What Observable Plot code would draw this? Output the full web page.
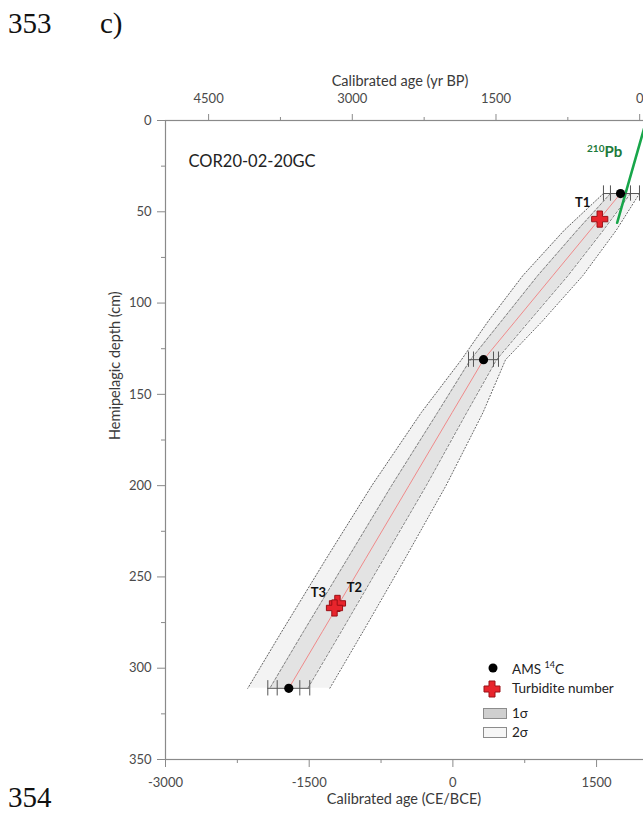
<!DOCTYPE html>
<html>
<head>
<meta charset="utf-8">
<script src="https://cdn.jsdelivr.net/npm/d3@7"></script>
<script src="https://cdn.jsdelivr.net/npm/@observablehq/plot@0.6"></script>
<style>
  html, body { margin: 0; padding: 0; overflow: hidden; background: #fff; width: 643px; height: 816px; }
  #wrap { position: relative; width: 643px; height: 816px; overflow: hidden; }
  #chart svg { max-width: none !important; height: 816px !important; width: 650px !important; display: block; }
  .num { position: absolute; font-family: "Liberation Serif", "DejaVu Serif", serif; font-size: 29px; color: #111; line-height: 1; }
  #legend { position: absolute; left: 480px; top: 658px; font-family: Lato, "Open Sans", sans-serif; font-size: 13.5px; color: #222; }
  .lg { position: absolute; white-space: nowrap; }
  .lg svg { position: absolute; }
  .lg span { position: absolute; left: 32px; top: -9px; }
</style>
</head>
<body>
<div id="wrap">
  <div id="chart"></div>
  <div class="num" style="left:8px; top:9px;">353</div>
  <div class="num" style="left:100px; top:9px;">c)</div>
  <div class="num" style="left:8px; top:783px;">354</div>
  <div id="legend">
    <div class="lg" style="left:0; top:10px;"><svg width="24" height="14" style="left:4px;top:-7px"><circle cx="9" cy="7" r="4.5" fill="#000"/></svg><span>AMS <sup style="font-size:9px">14</sup>C</span></div>
    <div class="lg" style="left:0; top:31px;"><svg width="24" height="20" style="left:2px;top:-10px"><path d="M7,2h6v5h5v6h-5v5h-6v-5h-5v-6h5z" fill="#e8242c" stroke="#9b1016" stroke-width="1"/></svg><span>Turbidite number</span></div>
    <div class="lg" style="left:0; top:56px;"><svg width="26" height="12" style="left:3px;top:-6px"><rect x="0.5" y="0.5" width="23" height="10" fill="#cfcfcf" stroke="#8c8c8c"/></svg><span>1σ</span></div>
    <div class="lg" style="left:0; top:75px;"><svg width="26" height="12" style="left:3px;top:-6px"><rect x="0.5" y="0.5" width="23" height="10" fill="#f6f6f6" stroke="#8c8c8c"/></svg><span>2σ</span></div>
  </div>
</div>
<script>
// ---- Data ----
const coreName = "COR20-02-20GC";

// AMS 14C dates (CE/BCE, depth in cm)
const amsDepth = [40, 131, 311];
const amsAge = [1750, 320, -1713];
const ams1Lo = [1645, 215, -1834];
const ams1Hi = [1854, 424, -1598];
const ams2Lo = [1572, 163, -1932];
const ams2Hi = [1948, 476, -1494];

// Age-depth model
const modelDepth = [40, 60, 85, 110, 131, 160, 200, 240, 280, 311];
const modelMedian = [1750, 1436, 1043, 650, 320, -8, -459, -911, -1363, -1713];
const sig1Lo = [1645, 1300, 885, 505, 184, -160, -640, -1100, -1560, -1911];
const sig1Hi = [1854, 1572, 1201, 795, 456, 144, -278, -722, -1166, -1515];
const sig2Lo = [1572, 1165, 730, 368, 90, -330, -846, -1322, -1787, -2141];
const sig2Hi = [1948, 1707, 1356, 932, 550, 314, -72, -500, -939, -1285];

// Turbidites
const turbName = ["T1", "T2", "T3"];
const turbDepth = [54, 264.5, 267];
const turbAge = [1533, -1205, -1236];

// 210Pb model
const pbAge = [2020, 1715];
const pbDepth = [0, 56];

// Axis ticks
const ceTicks = [-3000, -1500, 0, 1500];
const ceMinor = [-2250, -750, 750];
const bpTicks = [4500, 3000, 1500, 0];
const bpMinor = [3750, 2250, 750];
const depthTicks = [0, 50, 100, 150, 200, 250, 300, 350];
const depthMinor = [25, 75, 125, 175, 225, 275, 325];

// ---- Tables ----
const ams = amsDepth.map((d, i) => ({depth: d, age: amsAge[i], lo1: ams1Lo[i], hi1: ams1Hi[i], lo2: ams2Lo[i], hi2: ams2Hi[i]}));
const caps = ams.flatMap(a => [a.lo2, a.lo1, a.hi1, a.hi2].map(x => ({depth: a.depth, x})));
const model = modelDepth.map((d, i) => ({depth: d, med: modelMedian[i], lo1: sig1Lo[i], hi1: sig1Hi[i], lo2: sig2Lo[i], hi2: sig2Hi[i]}));
const turb = turbName.map((n, i) => ({name: n, depth: turbDepth[i], age: turbAge[i]}));
const pb = pbAge.map((a, i) => ({age: a, depth: pbDepth[i]}));
const BP0 = 1950;

const axisStroke = "#8a8a8a";
const labelFill = "#4a4a4a";
const font = "Lato, 'Open Sans', sans-serif";

const chart = Plot.plot({
  width: 650,
  height: 816,
  marginLeft: 165,
  marginRight: 0,
  marginTop: 120,
  marginBottom: 57,
  style: {fontFamily: font, background: "transparent", overflow: "visible"},
  x: {domain: [-3000, 2063]},
  y: {domain: [0, 350], reverse: true},
  marks: [
    // 2σ envelope
    Plot.areaX(model, {y: "depth", x1: "lo2", x2: "hi2", fill: "#f3f3f3"}),
    // 1σ envelope
    Plot.areaX(model, {y: "depth", x1: "lo1", x2: "hi1", fill: "#e3e3e3"}),
    Plot.lineX(model, {x: "lo2", y: "depth", stroke: "#555", strokeWidth: 0.9, strokeDasharray: "1.2,2"}),
    Plot.lineX(model, {x: "hi2", y: "depth", stroke: "#555", strokeWidth: 0.9, strokeDasharray: "1.2,2"}),
    Plot.lineX(model, {x: "lo1", y: "depth", stroke: "#777", strokeWidth: 0.9, strokeDasharray: "2.5,2"}),
    Plot.lineX(model, {x: "hi1", y: "depth", stroke: "#777", strokeWidth: 0.9, strokeDasharray: "2.5,2"}),
    Plot.lineX(model, {x: "med", y: "depth", stroke: "#f08a8a", strokeWidth: 1}),
    // frame
    Plot.frame({stroke: axisStroke, strokeWidth: 1.2}),
    // axes
    Plot.axisY({ticks: depthTicks, tickSize: 8, tickPadding: 6, fontSize: 13, fill: labelFill, stroke: axisStroke, label: null}),
    Plot.axisY({ticks: depthMinor, tickSize: 4, tickFormat: () => "", stroke: axisStroke, label: null}),
    Plot.axisX({anchor: "bottom", ticks: ceTicks, tickSize: 8, tickPadding: 10, fontSize: 13, fill: labelFill, stroke: axisStroke, label: null, tickFormat: d => String(d)}),
    Plot.axisX({anchor: "bottom", ticks: ceMinor, tickSize: 4, tickFormat: () => "", stroke: axisStroke, label: null}),
    Plot.axisX({anchor: "top", ticks: bpTicks.map(b => BP0 - b), tickSize: 7, tickPadding: 11, fontSize: 13, fill: labelFill, stroke: axisStroke, label: null, tickFormat: d => String(BP0 - d)}),
    Plot.axisX({anchor: "top", ticks: bpMinor.map(b => BP0 - b), tickSize: 4, tickFormat: () => "", stroke: axisStroke, label: null}),
    // axis titles
    Plot.text(["Calibrated age (yr BP)"], {frameAnchor: "top", dy: -45, dx: -8, fontSize: 14.5, fill: "#3a3a3a"}),
    Plot.text(["Calibrated age (CE/BCE)"], {frameAnchor: "bottom", dy: 44, dx: -4, fontSize: 14.5, fill: "#3a3a3a"}),
    Plot.text(["Hemipelagic depth (cm)"], {frameAnchor: "left", dx: -50, rotate: -90, fontSize: 14.5, fill: "#3a3a3a"}),
    Plot.text([coreName], {frameAnchor: "top-left", dx: 23, dy: 35, textAnchor: "start", fontSize: 16.5, fill: "#222"}),
    // 210Pb
    Plot.line(pb, {x: "age", y: "depth", stroke: "#18a64a", strokeWidth: 2.6}),
    // AMS error bars
    Plot.ruleY(ams, {y: "depth", x1: "lo2", x2: "hi2", stroke: "#555", strokeWidth: 1}),
    Plot.ruleX(caps, {x: "x", y1: d => d.depth - 4.2, y2: d => d.depth + 4.2, stroke: "#555", strokeWidth: 1}),
    Plot.dot(ams, {x: "age", y: "depth", r: 4.6, fill: "#000"}),
    // turbidites
    Plot.dot(turb, {x: "age", y: "depth", symbol: "cross", r: 6.8, fill: "#e8242c", stroke: "#9b1016", strokeWidth: 1}),
    Plot.text(turb, {filter: d => d.name === "T1", x: "age", y: "depth", text: "name", dx: -17, dy: -16, fontSize: 13, fontWeight: "bold", fill: "#111"}),
    Plot.text(turb, {filter: d => d.name === "T2", x: "age", y: "depth", text: "name", dx: 17, dy: -16, fontSize: 13, fontWeight: "bold", fill: "#111"}),
    Plot.text(turb, {filter: d => d.name === "T3", x: "age", y: "depth", text: "name", dx: -16, dy: -15, fontSize: 13, fontWeight: "bold", fill: "#111"})
  ]
});
chart.style.maxWidth = "none";
document.getElementById("chart").appendChild(chart);

// 210Pb label (tspan for superscript)
const svg = d3.select(chart);
const xs = chart.scale("x"), ys = chart.scale("y");
svg.append("text")
  .attr("x", xs.apply(pb[1].age) - 12)
  .attr("y", ys.apply(20.5))
  .attr("text-anchor", "middle")
  .attr("font-family", font)
  .attr("font-weight", "bold")
  .attr("fill", "#1d7a3a")
  .attr("font-size", 15)
  .call(t => {
    t.append("tspan").attr("font-size", 10).attr("dy", -5).text("210");
    t.append("tspan").attr("dy", 5).text("Pb");
  });
</script>
</body>
</html>
